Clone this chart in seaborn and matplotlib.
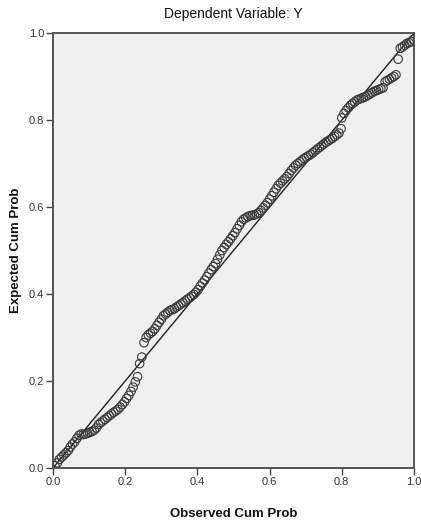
import matplotlib
matplotlib.use("Agg")
import matplotlib.pyplot as plt
import seaborn as sns
import pandas as pd

observed = [0.005, 0.012, 0.018, 0.024, 0.030, 0.036, 0.042, 0.048, 0.054, 0.060,
            0.066, 0.072, 0.078, 0.084, 0.090, 0.096, 0.102, 0.108, 0.114, 0.120,
            0.126, 0.132, 0.138, 0.144, 0.150, 0.156, 0.162, 0.168, 0.174, 0.180,
            0.186, 0.192, 0.198, 0.204, 0.210, 0.216, 0.222, 0.228, 0.234, 0.240,
            0.246, 0.252, 0.258, 0.264, 0.270, 0.276, 0.282, 0.288, 0.294, 0.300,
            0.306, 0.312, 0.318, 0.324, 0.330, 0.336, 0.342, 0.348, 0.354, 0.360,
            0.366, 0.372, 0.378, 0.384, 0.390, 0.396, 0.402, 0.408, 0.414, 0.420,
            0.426, 0.432, 0.438, 0.444, 0.450, 0.456, 0.462, 0.468, 0.474, 0.480,
            0.486, 0.492, 0.498, 0.504, 0.510, 0.516, 0.522, 0.528, 0.534, 0.540,
            0.546, 0.552, 0.558, 0.564, 0.570, 0.576, 0.582, 0.588, 0.594, 0.600,
            0.606, 0.612, 0.618, 0.624, 0.630, 0.636, 0.642, 0.648, 0.654, 0.660,
            0.666, 0.672, 0.678, 0.684, 0.690, 0.696, 0.702, 0.708, 0.714, 0.720,
            0.726, 0.732, 0.738, 0.744, 0.750, 0.756, 0.762, 0.768, 0.774, 0.780,
            0.786, 0.792, 0.798, 0.800, 0.806, 0.812, 0.818, 0.824, 0.830, 0.836,
            0.842, 0.848, 0.854, 0.860, 0.866, 0.872, 0.878, 0.884, 0.890, 0.896,
            0.902, 0.908, 0.914, 0.920, 0.926, 0.932, 0.938, 0.944, 0.950, 0.956,
            0.962, 0.968, 0.974, 0.980, 0.986, 0.992, 0.998]

expected = [0.005, 0.012, 0.020, 0.025, 0.030, 0.035, 0.040, 0.048, 0.055, 0.060,
            0.068, 0.075, 0.078, 0.077, 0.078, 0.080, 0.082, 0.084, 0.087, 0.092,
            0.100, 0.104, 0.108, 0.112, 0.116, 0.120, 0.124, 0.128, 0.131, 0.135,
            0.140, 0.146, 0.152, 0.160, 0.167, 0.176, 0.186, 0.198, 0.210, 0.240,
            0.255, 0.288, 0.300, 0.306, 0.310, 0.314, 0.320, 0.328, 0.335, 0.342,
            0.350, 0.354, 0.358, 0.362, 0.364, 0.366, 0.370, 0.373, 0.377, 0.380,
            0.384, 0.388, 0.391, 0.395, 0.399, 0.404, 0.410, 0.418, 0.425, 0.432,
            0.440, 0.448, 0.456, 0.463, 0.470, 0.480, 0.490, 0.500, 0.507, 0.514,
            0.520, 0.527, 0.534, 0.541, 0.550, 0.558, 0.566, 0.572, 0.575, 0.578,
            0.580, 0.581, 0.582, 0.584, 0.587, 0.592, 0.598, 0.604, 0.610, 0.618,
            0.626, 0.634, 0.642, 0.650, 0.655, 0.660, 0.665, 0.670, 0.677, 0.684,
            0.690, 0.696, 0.700, 0.704, 0.708, 0.712, 0.715, 0.718, 0.721, 0.725,
            0.729, 0.733, 0.737, 0.741, 0.745, 0.749, 0.752, 0.755, 0.758, 0.762,
            0.766, 0.770, 0.780, 0.805, 0.815, 0.822, 0.828, 0.834, 0.838, 0.842,
            0.846, 0.848, 0.850, 0.852, 0.854, 0.857, 0.860, 0.863, 0.866, 0.868,
            0.870, 0.872, 0.874, 0.888, 0.891, 0.894, 0.897, 0.900, 0.904, 0.940,
            0.965, 0.968, 0.972, 0.976, 0.978, 0.980, 0.985]

diag_x = [0.0, 1.0]
diag_y = [0.0, 1.0]

x_ticks = [0.0, 0.2, 0.4, 0.6, 0.8, 1.0]
y_ticks = [0.0, 0.2, 0.4, 0.6, 0.8, 1.0]
tick_labels = ["0.0", "0.2", "0.4", "0.6", "0.8", "1.0"]

title = "Dependent Variable: Y"
x_label = "Observed Cum Prob"
y_label = "Expected Cum Prob"

sns.set_theme(style="ticks")
plt.rcParams["font.family"] = ["Liberation Sans", "DejaVu Sans"]

df = pd.DataFrame({"Observed": observed, "Expected": expected})
diag = pd.DataFrame({"x": diag_x, "y": diag_y})

fig = plt.figure(figsize=(4.21, 5.24), dpi=100, facecolor="white")
ax = fig.add_axes([0.1259, 0.1069, 0.8575, 0.830])
ax.set_facecolor("#F0F0F0")

sns.lineplot(data=diag, x="x", y="y", ax=ax, color="#222222", linewidth=1.0,
             zorder=2)
sns.scatterplot(data=df, x="Observed", y="Expected", ax=ax, marker="o",
                s=38, facecolors="none", edgecolor="#3a3a3a", linewidth=0.8,
                zorder=3)

ax.set_xlim(0, 1)
ax.set_ylim(0, 1)
ax.set_xticks(x_ticks)
ax.set_xticklabels(tick_labels)
ax.set_yticks(y_ticks)
ax.set_yticklabels(tick_labels)
ax.tick_params(axis="both", labelsize=8, length=5, width=1.0, color="#444444",
               labelcolor="#333333", pad=1.5)
for s in ax.spines.values():
    s.set_color("#555555")
    s.set_linewidth(1.4)

ax.set_title(title, fontsize=10, color="#111111", pad=11)
ax.set_xlabel(x_label, fontsize=9.5, fontweight="bold", color="#111111", labelpad=15)
ax.set_ylabel(y_label, fontsize=9.5, fontweight="bold", color="#111111", labelpad=5)

fig.savefig("out.png", dpi=100, facecolor="white")
